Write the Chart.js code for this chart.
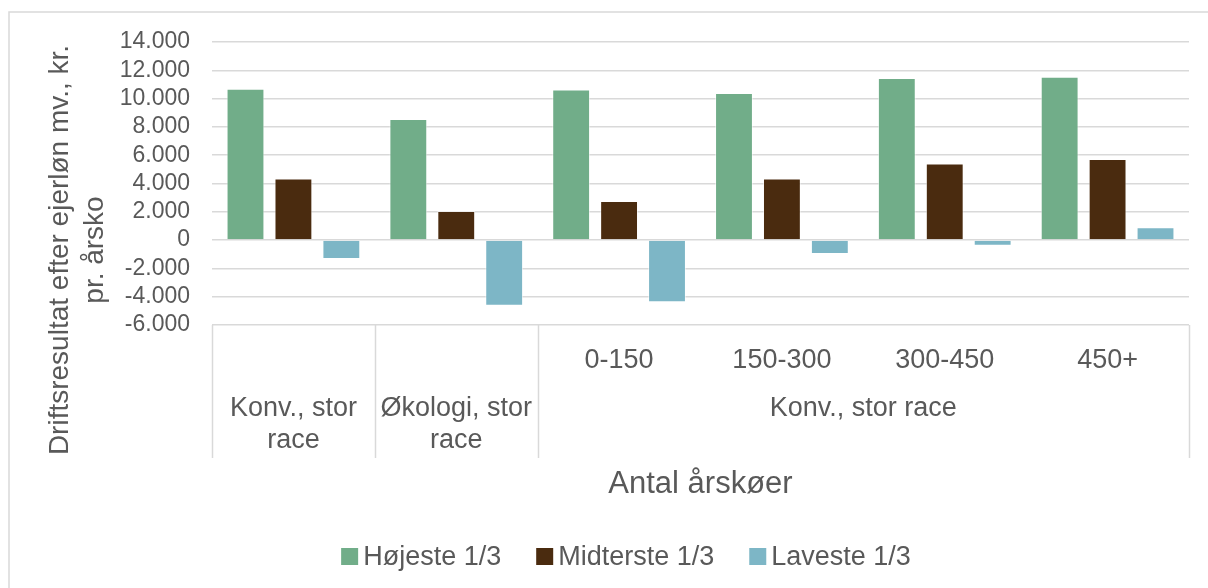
<!DOCTYPE html>
<html>
<head>
<meta charset="utf-8">
<script src="https://cdn.jsdelivr.net/npm/chart.js@4.4.1/dist/chart.umd.min.js"></script>
<style>
  html, body { margin: 0; padding: 0; background: #fff; }
  #wrap { width: 1208px; height: 588px; position: relative; }
</style>
</head>
<body>
<div id="wrap"><canvas id="resultChart" width="1208" height="588"></canvas></div>
<script>
// ---- data ----
const sizeLabels = ['', '', '0-150', '150-300', '300-450', '450+'];
const groupLabels = [['Konv., stor', 'race'], ['Økologi, stor', 'race'], ['Konv., stor race']];
const groupSpans = [1, 1, 4];

const seriesNames = ['Højeste 1/3', 'Midterste 1/3', 'Laveste 1/3'];
const hojeste = [10700, 8550, 10650, 10400, 11450, 11550];
const midterste = [4350, 2050, 2770, 4350, 5410, 5740];
const laveste = [-1340, -4640, -4400, -990, -400, 900];

const yTicks = [-6000, -4000, -2000, 0, 2000, 4000, 6000, 8000, 10000, 12000, 14000];

const yTitle = ['Driftsresultat efter ejerløn mv., kr.', 'pr. årsko'];
const xTitle = 'Antal årskøer';

const colors = ['#71AD89', '#4A2B0F', '#7DB6C6'];
const txtColor = '#595959';
const lineColor = '#d9d9d9';
const FONT = "'Liberation Sans', Arial, sans-serif";

const fmt = (v) => {
  const s = Math.abs(v).toString().replace(/\B(?=(\d{3})+(?!\d))/g, '.');
  return v < 0 ? '-' + s : s;
};

// draws the frame, the two-level category axis, titles and legend
const extrasPlugin = {
  id: 'extras',
  afterDraw(chart) {
    const { ctx, chartArea: area } = chart;
    const x = chart.scales.x;
    const half = (x.getPixelForValue(1) - x.getPixelForValue(0)) / 2;
    const boxBottom = area.bottom + 133;

    ctx.save();
    // outer frame
    ctx.strokeStyle = lineColor;
    ctx.lineWidth = 1.5;
    ctx.strokeRect(9, 12, 1400, 800);

    // group dividers
    let idx = 0;
    const edges = [x.getPixelForValue(0) - half];
    groupSpans.forEach(n => { idx += n; edges.push(x.getPixelForValue(idx - 1) + half); });
    ctx.beginPath();
    edges.forEach(px => {
      ctx.moveTo(Math.round(px) + 0.5, area.bottom);
      ctx.lineTo(Math.round(px) + 0.5, boxBottom);
    });
    ctx.stroke();

    ctx.fillStyle = txtColor;
    ctx.textAlign = 'center';
    ctx.textBaseline = 'alphabetic';
    ctx.font = '27px ' + FONT;
    // first level
    sizeLabels.forEach((lab, i) => {
      if (lab) ctx.fillText(lab, x.getPixelForValue(i), area.bottom + 43);
    });
    // second level
    groupLabels.forEach((lines, g) => {
      const cx = (edges[g] + edges[g + 1]) / 2;
      lines.forEach((ln, k) => ctx.fillText(ln, cx, area.bottom + 91 + k * 32));
    });

    // x title
    ctx.font = '31px ' + FONT;
    ctx.fillText(xTitle, (area.left + area.right) / 2, area.bottom + 168);

    // y title
    ctx.save();
    ctx.translate(0, 250);
    ctx.rotate(-Math.PI / 2);
    ctx.font = '28px ' + FONT;
    ctx.textBaseline = 'middle';
    ctx.fillText(yTitle[0], 0, 60);
    ctx.fillText(yTitle[1], 0, 95);
    ctx.restore();

    // legend
    ctx.font = '27px ' + FONT;
    ctx.textAlign = 'left';
    const box = 17, gap = 5, spacing = 35;
    const items = chart.data.datasets.map(ds => ({ text: ds.label, color: ds.backgroundColor, w: box + gap + ctx.measureText(ds.label).width }));
    const total = items.reduce((s, it) => s + it.w, 0) + spacing * (items.length - 1);
    let lx = 626 - total / 2;
    const base = 565;
    items.forEach(it => {
      ctx.fillStyle = it.color;
      ctx.fillRect(lx, base - box, box, box);
      ctx.fillStyle = txtColor;
      ctx.fillText(it.text, lx + box + gap, base);
      lx += it.w + spacing;
    });
    ctx.restore();
  }
};

const ctx = document.getElementById('resultChart');
new Chart(ctx, {
  type: 'bar',
  data: {
    labels: sizeLabels.map((s, i) => s || 'g' + i),
    datasets: [hojeste, midterste, laveste].map((d, i) => ({
      label: seriesNames[i],
      data: d,
      backgroundColor: colors[i],
      borderColor: 'rgba(255,255,255,0.55)',
      borderWidth: 1,
      categoryPercentage: 0.883,
      barPercentage: 0.79
    }))
  },
  options: {
    responsive: false,
    animation: false,
    layout: { padding: { top: 42, right: 19, bottom: 263, left: 0 } },
    plugins: {
      legend: { display: false },
      tooltip: { enabled: false }
    },
    scales: {
      x: {
        display: false
      },
      y: {
        min: -6000,
        max: 14000,
        afterFit: (scale) => { scale.width = 212; },
        afterBuildTicks: (scale) => { scale.ticks = yTicks.map(v => ({ value: v })); },
        border: { display: false },
        grid: { color: lineColor, lineWidth: 1.5, drawTicks: false },
        ticks: {
          autoSkip: false,
          padding: 22,
          color: txtColor,
          font: { family: FONT, size: 23 },
          callback: (v) => fmt(v)
        }
      }
    }
  },
  plugins: [extrasPlugin]
});
</script>
</body>
</html>
